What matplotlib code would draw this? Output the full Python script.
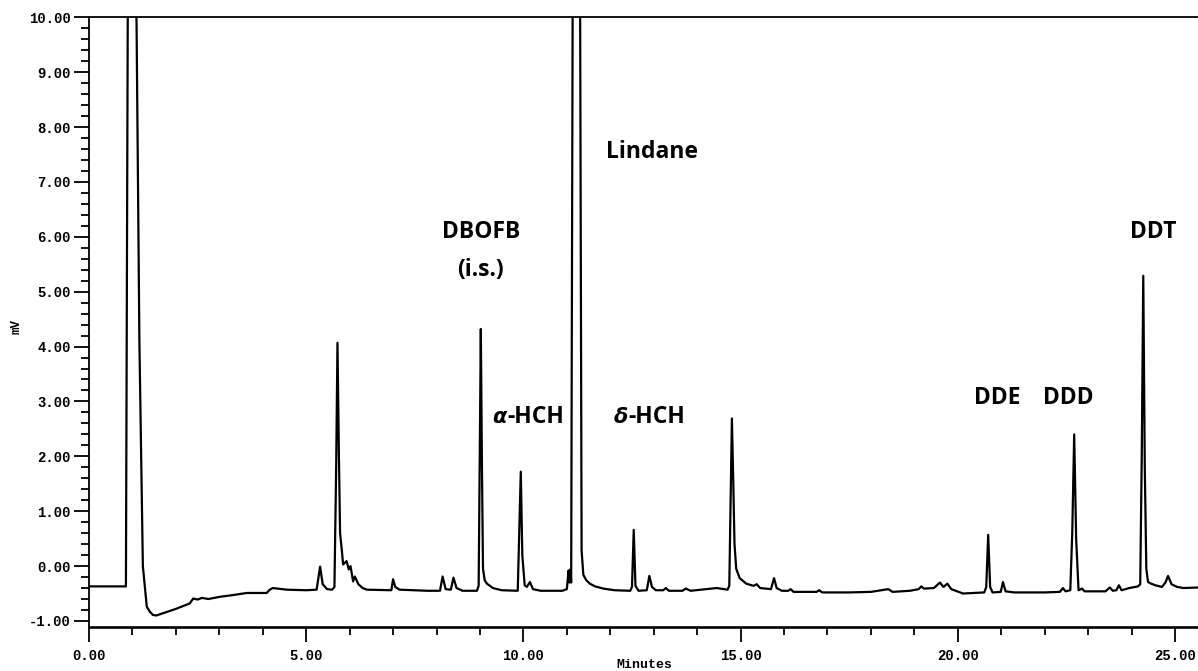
import matplotlib
matplotlib.use("Agg")
import matplotlib.pyplot as plt
from matplotlib.ticker import MultipleLocator, FixedLocator

# chromatogram trace (minutes, mV)
minutes = [0.00, 0.85, 0.90, 1.09, 1.16, 1.24, 1.33, 1.40, 1.47, 1.55, 1.70, 2.00, 2.32, 2.40,
           2.50, 2.60, 2.75, 3.01, 3.30, 3.63, 4.09, 4.16, 4.23, 4.55, 5.00, 5.24,
           5.32, 5.38, 5.48, 5.60, 5.65, 5.69, 5.72, 5.75, 5.78, 5.82, 5.85, 5.93, 5.98, 6.02, 6.08,
           6.12, 6.20, 6.30, 6.40, 6.90, 6.96, 7.00, 7.05, 7.15, 7.50, 7.80, 8.08,
           8.14, 8.21, 8.33, 8.39, 8.46, 8.60, 8.93, 8.97, 8.995, 9.02, 9.045, 9.07, 9.11, 9.16, 9.30,
           9.50, 9.87, 9.905, 9.94, 9.975, 10.03, 10.08, 10.15, 10.22, 10.40, 10.90,
           11.00, 11.04, 11.06, 11.08, 11.10, 11.14, 11.30, 11.34, 11.38, 11.45, 11.53,
           11.65, 11.84, 12.10, 12.46, 12.50, 12.54, 12.58, 12.65, 12.84, 12.90, 12.96,
           13.05, 13.22, 13.28, 13.35, 13.66, 13.74, 13.85, 14.10, 14.45, 14.70, 14.74,
           14.77, 14.80, 14.83, 14.86, 14.90, 14.98, 15.13, 15.30, 15.37, 15.45, 15.70, 15.77, 15.83,
           15.95, 16.10, 16.15, 16.22, 16.75, 16.81, 16.88, 17.50, 18.00, 18.40, 18.50,
           18.90, 19.10, 19.16, 19.22, 19.45, 19.59, 19.67, 19.76, 19.85, 20.12, 20.61,
           20.655, 20.70, 20.745, 20.80, 20.99, 21.04, 21.10, 21.30, 22.00, 22.35, 22.42,
           22.48, 22.59, 22.635, 22.68, 22.725, 22.78, 22.86, 22.92, 23.40, 23.50, 23.57,
           23.65, 23.71, 23.77, 23.95, 24.15, 24.20, 24.235, 24.27, 24.305, 24.34, 24.38, 24.45, 24.55,
           24.70, 24.78, 24.84, 24.92, 25.05, 25.20, 25.53]
mv = [-0.37, -0.37, 12.0, 10.3, 4.10, 0.00, -0.74, -0.83, -0.89, -0.90, -0.86, -0.78, -0.68, -0.59,
      -0.61, -0.58, -0.60, -0.56, -0.53, -0.49, -0.49, -0.43, -0.40, -0.43, -0.44, -0.43,
      -0.01, -0.33, -0.42, -0.43, -0.38, 1.80, 4.07, 2.20, 0.60, 0.29, 0.03, 0.09, -0.06, 0.00, -0.28,
      -0.19, -0.33, -0.40, -0.43, -0.44, -0.44, -0.24, -0.38, -0.43, -0.44, -0.45, -0.45,
      -0.19, -0.42, -0.43, -0.21, -0.40, -0.45, -0.45, -0.36, 2.00, 4.32, 1.90, -0.05, -0.26, -0.32, -0.40,
      -0.44, -0.45, 0.60, 1.72, 0.20, -0.35, -0.38, -0.29, -0.42, -0.45, -0.45,
      -0.42, -0.08, -0.30, -0.06, -0.30, 12.0, 12.0, 0.29, -0.16, -0.26, -0.32,
      -0.37, -0.41, -0.44, -0.45, -0.38, 0.66, -0.36, -0.45, -0.44, -0.18, -0.38,
      -0.44, -0.44, -0.40, -0.45, -0.45, -0.41, -0.45, -0.43, -0.40, -0.43, -0.36,
      1.20, 2.69, 1.60, 0.40, -0.05, -0.22, -0.32, -0.36, -0.33, -0.40, -0.42, -0.22, -0.40,
      -0.45, -0.45, -0.42, -0.47, -0.47, -0.44, -0.48, -0.48, -0.47, -0.42, -0.47,
      -0.45, -0.42, -0.37, -0.41, -0.40, -0.30, -0.38, -0.32, -0.42, -0.50, -0.48,
      -0.38, 0.57, -0.38, -0.48, -0.47, -0.29, -0.46, -0.48, -0.48, -0.47, -0.40,
      -0.46, -0.44, 0.60, 2.40, 0.50, -0.44, -0.41, -0.46, -0.46, -0.39, -0.45,
      -0.44, -0.35, -0.44, -0.40, -0.37, -0.33, 2.00, 5.29, 1.80, -0.05, -0.29, -0.32, -0.35,
      -0.38, -0.30, -0.18, -0.33, -0.38, -0.40, -0.39]

# peak labels: text, minutes, mV (centre)
labels = ["Lindane", "DBOFB", "(i.s.)", "DDE", "DDD", "DDT"]
label_x = [11.90, 9.02, 9.02, 20.91, 22.54, 24.51]
label_y = [7.55, 6.09, 5.40, 3.07, 3.07, 6.09]
greek = ["α", "δ"]
greek_x = [9.62, 12.42]
greek_y = [2.72, 2.72]

x_ticks = [0, 5, 10, 15, 20, 25]
y_ticks = [-1, 0, 1, 2, 3, 4, 5, 6, 7, 8, 9, 10]

fig = plt.figure(figsize=(11.98, 6.71), dpi=100)
ax = fig.add_axes([89 / 1198, 1 - 627 / 671, 1 - 89 / 1198, (627 - 17.3) / 671])
ax.plot(minutes, mv, color="black", lw=1.6, solid_joinstyle="round")
ax.set_xlim(0, 25.53)
ax.set_ylim(-1.11, 10.0)

ax.spines["right"].set_visible(False)
for s in ["left", "bottom", "top"]:
    ax.spines[s].set_linewidth(1.3)
ax.spines["bottom"].set_linewidth(1.9)

ax.xaxis.set_major_locator(FixedLocator(x_ticks))
ax.xaxis.set_minor_locator(MultipleLocator(1))
ax.yaxis.set_major_locator(FixedLocator(y_ticks))
ax.yaxis.set_minor_locator(MultipleLocator(0.2))
ax.set_xticklabels(["%.2f" % v for v in x_ticks])
ax.set_yticklabels(["%.2f" % v for v in y_ticks])
ax.tick_params(which="major", direction="out", length=11, width=1.3)
ax.tick_params(which="minor", direction="out", length=5.5, width=1.3)
ax.tick_params(axis="y", pad=2)
ax.tick_params(axis="x", pad=5)
for lab in ax.get_xticklabels() + ax.get_yticklabels():
    lab.set_fontfamily("Liberation Mono")
    lab.set_fontweight("bold")
    lab.set_fontsize(10)

fig.text(644 / 1198, 1 - 665 / 671, "Minutes", ha="center", va="center",
         family="Liberation Mono", fontweight="bold", fontsize=9.5)
fig.text(17 / 1198, 1 - 326 / 671, "mV", ha="center", va="center", rotation=90,
         family="Liberation Mono", fontweight="bold", fontsize=9)

sans = ["Open Sans", "DejaVu Sans"]
for t, x, y in zip(labels, label_x, label_y):
    ha = "left" if t == "Lindane" else "center"
    ax.text(x, y, t, ha=ha, va="center", family=sans, fontweight="bold", fontsize=16.5)
for g, x, y in zip(greek, greek_x, greek_y):
    ax.text(x, y, g, ha="right", va="center", family=["DejaVu Sans"], fontweight="bold",
            fontstyle="italic", fontsize=15)
    ax.text(x, y, "-HCH", ha="left", va="center", family=sans, fontweight="bold", fontsize=16.5)

fig.savefig("out.png", dpi=100)
